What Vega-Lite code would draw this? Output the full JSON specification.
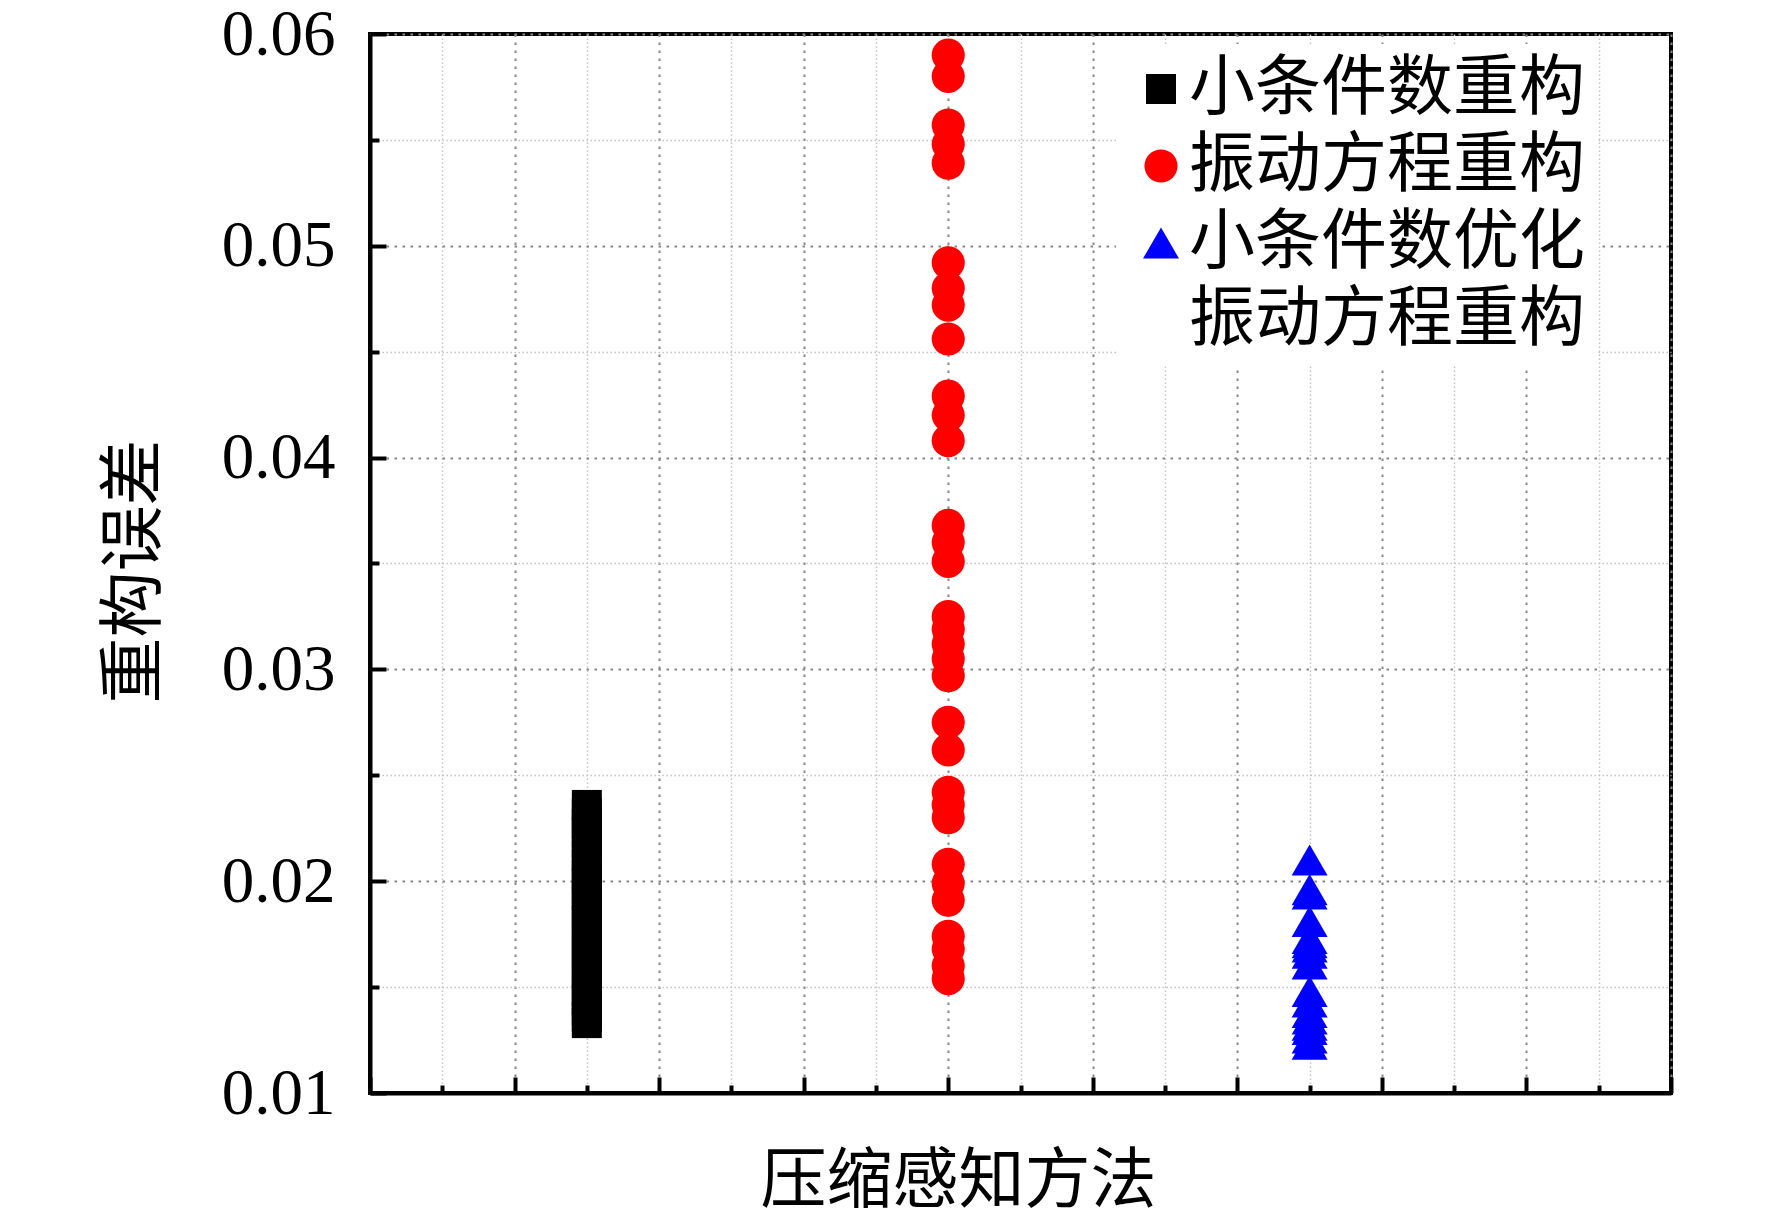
{
  "$schema": "https://vega.github.io/schema/vega-lite/v6.json",
  "width": 1301,
  "height": 1059,
  "autosize": {"type": "none"},
  "padding": {"left": 370, "top": 34, "right": 101, "bottom": 125},
  "background": "white",
  "data": {
    "values": [
      {"method": "小条件数重构", "x": 3, "error": 0.0236},
      {"method": "小条件数重构", "x": 3, "error": 0.0232},
      {"method": "小条件数重构", "x": 3, "error": 0.0227},
      {"method": "小条件数重构", "x": 3, "error": 0.0223},
      {"method": "小条件数重构", "x": 3, "error": 0.0218},
      {"method": "小条件数重构", "x": 3, "error": 0.0212},
      {"method": "小条件数重构", "x": 3, "error": 0.0208},
      {"method": "小条件数重构", "x": 3, "error": 0.0203},
      {"method": "小条件数重构", "x": 3, "error": 0.0199},
      {"method": "小条件数重构", "x": 3, "error": 0.0194},
      {"method": "小条件数重构", "x": 3, "error": 0.0190},
      {"method": "小条件数重构", "x": 3, "error": 0.0185},
      {"method": "小条件数重构", "x": 3, "error": 0.0181},
      {"method": "小条件数重构", "x": 3, "error": 0.0176},
      {"method": "小条件数重构", "x": 3, "error": 0.0171},
      {"method": "小条件数重构", "x": 3, "error": 0.0167},
      {"method": "小条件数重构", "x": 3, "error": 0.0162},
      {"method": "小条件数重构", "x": 3, "error": 0.0157},
      {"method": "小条件数重构", "x": 3, "error": 0.0153},
      {"method": "小条件数重构", "x": 3, "error": 0.0148},
      {"method": "小条件数重构", "x": 3, "error": 0.0144},
      {"method": "小条件数重构", "x": 3, "error": 0.0139},
      {"method": "小条件数重构", "x": 3, "error": 0.0136},
      {"method": "小条件数重构", "x": 3, "error": 0.0133},
      {"method": "振动方程重构", "x": 8, "error": 0.0590},
      {"method": "振动方程重构", "x": 8, "error": 0.0580},
      {"method": "振动方程重构", "x": 8, "error": 0.0557},
      {"method": "振动方程重构", "x": 8, "error": 0.0548},
      {"method": "振动方程重构", "x": 8, "error": 0.0539},
      {"method": "振动方程重构", "x": 8, "error": 0.0492},
      {"method": "振动方程重构", "x": 8, "error": 0.0480},
      {"method": "振动方程重构", "x": 8, "error": 0.0472},
      {"method": "振动方程重构", "x": 8, "error": 0.0456},
      {"method": "振动方程重构", "x": 8, "error": 0.0429},
      {"method": "振动方程重构", "x": 8, "error": 0.0420},
      {"method": "振动方程重构", "x": 8, "error": 0.0408},
      {"method": "振动方程重构", "x": 8, "error": 0.0368},
      {"method": "振动方程重构", "x": 8, "error": 0.0360},
      {"method": "振动方程重构", "x": 8, "error": 0.0351},
      {"method": "振动方程重构", "x": 8, "error": 0.0325},
      {"method": "振动方程重构", "x": 8, "error": 0.0319},
      {"method": "振动方程重构", "x": 8, "error": 0.0312},
      {"method": "振动方程重构", "x": 8, "error": 0.0305},
      {"method": "振动方程重构", "x": 8, "error": 0.0297},
      {"method": "振动方程重构", "x": 8, "error": 0.0275},
      {"method": "振动方程重构", "x": 8, "error": 0.0262},
      {"method": "振动方程重构", "x": 8, "error": 0.0242},
      {"method": "振动方程重构", "x": 8, "error": 0.0236},
      {"method": "振动方程重构", "x": 8, "error": 0.0230},
      {"method": "振动方程重构", "x": 8, "error": 0.0208},
      {"method": "振动方程重构", "x": 8, "error": 0.0199},
      {"method": "振动方程重构", "x": 8, "error": 0.0191},
      {"method": "振动方程重构", "x": 8, "error": 0.0174},
      {"method": "振动方程重构", "x": 8, "error": 0.0168},
      {"method": "振动方程重构", "x": 8, "error": 0.0160},
      {"method": "振动方程重构", "x": 8, "error": 0.0154},
      {"method": "小条件数优化振动方程重构", "x": 13, "error": 0.0210},
      {"method": "小条件数优化振动方程重构", "x": 13, "error": 0.0196},
      {"method": "小条件数优化振动方程重构", "x": 13, "error": 0.0194},
      {"method": "小条件数优化振动方程重构", "x": 13, "error": 0.0181},
      {"method": "小条件数优化振动方程重构", "x": 13, "error": 0.0173},
      {"method": "小条件数优化振动方程重构", "x": 13, "error": 0.0171},
      {"method": "小条件数优化振动方程重构", "x": 13, "error": 0.0169},
      {"method": "小条件数优化振动方程重构", "x": 13, "error": 0.0166},
      {"method": "小条件数优化振动方程重构", "x": 13, "error": 0.0161},
      {"method": "小条件数优化振动方程重构", "x": 13, "error": 0.0148},
      {"method": "小条件数优化振动方程重构", "x": 13, "error": 0.0143},
      {"method": "小条件数优化振动方程重构", "x": 13, "error": 0.0138},
      {"method": "小条件数优化振动方程重构", "x": 13, "error": 0.0135},
      {"method": "小条件数优化振动方程重构", "x": 13, "error": 0.0132},
      {"method": "小条件数优化振动方程重构", "x": 13, "error": 0.0130},
      {"method": "小条件数优化振动方程重构", "x": 13, "error": 0.0126},
      {"method": "小条件数优化振动方程重构", "x": 13, "error": 0.0123}
    ]
  },
  "mark": {"type": "point", "filled": true, "opacity": 1, "strokeWidth": 0},
  "encoding": {
    "x": {
      "field": "x",
      "type": "quantitative",
      "scale": {"domain": [0, 18], "nice": false, "zero": false},
      "axis": {
        "values": [0, 1, 2, 3, 4, 5, 6, 7, 8, 9, 10, 11, 12, 13, 14, 15, 16, 17, 18],
        "labels": false,
        "title": "压缩感知方法",
        "titleFont": "Noto Sans CJK SC",
        "titleFontSize": 66,
        "titleFontWeight": "normal",
        "titleColor": "black",
        "titleX": 588,
        "titleY": 88,
        "titleBaseline": "middle",
        "domainColor": "black",
        "domainWidth": 4,
        "tickColor": "black",
        "tickWidth": 4,
        "tickSize": {"condition": {"test": "datum.value % 2 == 0", "value": -16}, "value": -8},
        "grid": true,
        "gridColor": {"condition": {"test": "datum.value % 2 == 0", "value": "#888888"}, "value": "#c4c4c4"},
        "gridWidth": {"condition": {"test": "datum.value % 2 == 0", "value": 2}, "value": 1.5},
        "gridDash": {"condition": {"test": "datum.value % 2 == 0", "value": [2.5, 5.5]}, "value": [1.5, 2.5]}
      }
    },
    "y": {
      "field": "error",
      "type": "quantitative",
      "scale": {"domain": [0.01, 0.06], "nice": false, "zero": false},
      "axis": {
        "values": [0.01, 0.015, 0.02, 0.025, 0.03, 0.035, 0.04, 0.045, 0.05, 0.055, 0.06],
        "labelExpr": "round(datum.value * 1000) % 10 == 0 ? format(datum.value, '.2f') : ''",
        "labelFont": "Liberation Serif",
        "labelFontSize": 65,
        "labelColor": "black",
        "labelPadding": 51,
        "labelFlush": false,
        "labelOverlap": false,
        "title": "重构误差",
        "titleFont": "Noto Sans CJK SC",
        "titleFontSize": 66,
        "titleFontWeight": "normal",
        "titleColor": "black",
        "titleX": -236,
        "titleY": 537,
        "titleBaseline": "middle",
        "titleAlign": "center",
        "domainColor": "black",
        "domainWidth": 4,
        "tickColor": "black",
        "tickWidth": 4,
        "tickSize": {"condition": {"test": "round(datum.value * 1000) % 10 == 0", "value": -16}, "value": -9},
        "grid": true,
        "gridColor": {"condition": {"test": "round(datum.value * 1000) % 10 == 0", "value": "#888888"}, "value": "#c4c4c4"},
        "gridWidth": {"condition": {"test": "round(datum.value * 1000) % 10 == 0", "value": 2}, "value": 1.5},
        "gridDash": {"condition": {"test": "round(datum.value * 1000) % 10 == 0", "value": [2.5, 5.5]}, "value": [1.5, 2.5]}
      }
    },
    "color": {
      "field": "method",
      "type": "nominal",
      "scale": {
        "domain": ["小条件数重构", "振动方程重构", "小条件数优化振动方程重构"],
        "range": ["#000000", "#ff0000", "#0000ff"]
      },
      "legend": {
        "title": null,
        "orient": "none",
        "legendX": 746,
        "legendY": 10,
        "padding": 12,
        "fillColor": "white",
        "labelFont": "Noto Sans CJK SC",
        "labelFontSize": 66,
        "labelColor": "black",
        "labelOffset": -5,
        "labelLimit": 800,
        "rowPadding": 11,
        "symbolStrokeWidth": 0,
        "labelExpr": "datum.label == '小条件数优化振动方程重构' ? ['小条件数优化', '振动方程重构'] : datum.label",
        "encode": {
          "symbols": {
            "update": {
              "size": {"signal": "datum.value == '小条件数重构' ? 729 : datum.value == '振动方程重构' ? 1296 : 1850"}
            }
          }
        }
      }
    },
    "shape": {
      "field": "method",
      "type": "nominal",
      "scale": {
        "domain": ["小条件数重构", "振动方程重构", "小条件数优化振动方程重构"],
        "range": ["square", "circle", "triangle-up"]
      }
    },
    "size": {
      "field": "method",
      "type": "nominal",
      "scale": {
        "domain": ["小条件数重构", "振动方程重构", "小条件数优化振动方程重构"],
        "range": [900, 1296, 1681]
      }
    }
  },
  "config": {
    "view": {"stroke": "black", "strokeWidth": 4},
    "axis": {"zindex": 0},
    "style": {"guide-label": {"lineHeight": 77}}
  }
}
